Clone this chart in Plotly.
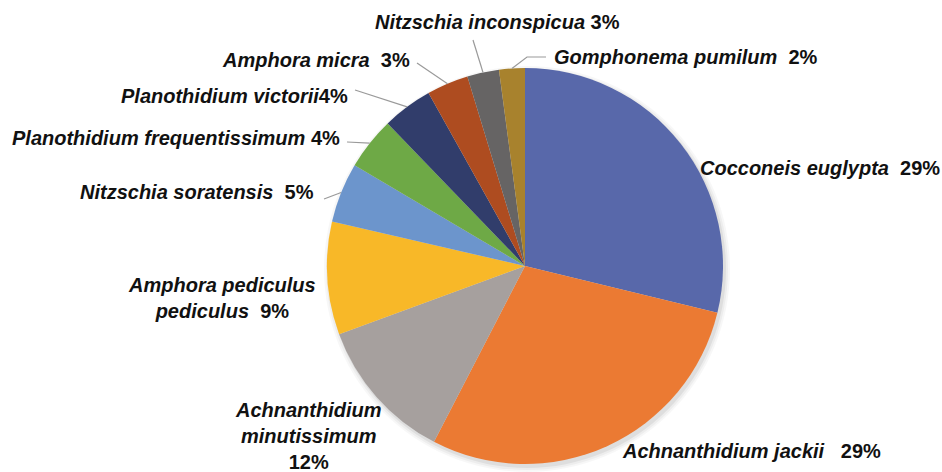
import math
import plotly.graph_objects as go

# ---- data ----
species = [
    "Cocconeis euglypta", "Achnanthidium jackii", "Achnanthidium minutissimum",
    "Amphora pediculus pediculus", "Nitzschia soratensis", "Planothidium frequentissimum",
    "Planothidium victorii", "Amphora micra", "Nitzschia inconspicua", "Gomphonema pumilum",
]
values = [28.8, 28.8, 11.8, 9.2, 4.9, 4.3, 4.1, 3.4, 2.6, 2.1]
colors = ["#5868AA", "#EB7A33", "#A6A09E", "#F8B828", "#6C95CC",
          "#6EA946", "#313D6B", "#AE4C20", "#666464", "#A8822D"]

# ---- layout geometry (pixels) ----
W, H = 942, 472
CX, CY, R = 525, 266, 198

def px(x):
    return x / W

def py(y):
    return 1 - y / H

total = sum(values)
pct = [int(math.floor(v / total * 100 + 0.5)) for v in values]

def lab(i, name_html, gap="\u00a0"):
    return f"<b><i>{name_html}</i>{gap}{pct[i]}%</b>"

label_specs = [
    # (text, x, y, xanchor, yanchor, align, leader start (px) or None)
    (lab(0, "Cocconeis euglypta", "\u00a0\u00a0"), 698, 168, "left", "middle", "left", None),
    (lab(1, "Achnanthidium jackii", "\u00a0\u00a0\u00a0"), 620, 451, "left", "middle", "left", None),
    (f"<b><i>Achnanthidium<br>minutissimum</i><br>{pct[2]}%</b>", 308, 397, "center", "top", "center", None),
    (f"<b><i>Amphora pediculus<br>pediculus</i>\u00a0\u00a0{pct[3]}%</b>", 222, 298, "center", "middle", "center", None),
    (lab(4, "Nitzschia soratensis", "\u00a0\u00a0"), 316, 192, "right", "middle", "right", (324, 199)),
    (lab(5, "Planothidium frequentissimum"), 342, 138, "right", "middle", "right", (347, 142)),
    (lab(6, "Planothidium victorii", ""), 350, 96, "right", "middle", "right", (355, 90)),
    (lab(7, "Amphora micra", "\u00a0\u00a0"), 412, 60, "right", "middle", "right", (417, 63)),
    (lab(8, "Nitzschia inconspicua"), 373, 22, "left", "middle", "left", (473, 40)),
    (lab(9, "Gomphonema pumilum", "\u00a0\u00a0"), 552, 57, "left", "middle", "left", (546, 57)),
]

fig = go.Figure()
fig.add_trace(go.Pie(
    labels=species, values=values, sort=False, direction="clockwise", rotation=0,
    marker=dict(colors=colors, line=dict(width=0)),
    textinfo="none", hoverinfo="label+percent", showlegend=False,
    domain=dict(x=[px(CX - R), px(CX + R)], y=[py(CY + R), py(CY - R)]),
))

font = dict(family="Liberation Sans, Arial, sans-serif", size=20, color="#111111")
annotations = []
shapes = []

# soft drop shadow behind the pie
for k, op in enumerate([0.06, 0.04, 0.03]):
    rr = R + 1 + k * 2
    shapes.append(dict(type="circle", xref="paper", yref="paper", layer="below",
                       x0=px(CX + 2 - rr), x1=px(CX + 2 + rr),
                       y0=py(CY + 3 + rr), y1=py(CY + 3 - rr),
                       fillcolor=f"rgba(0,0,0,{op})", line=dict(width=0)))

cum = 0.0
for i, v in enumerate(values):
    mid = (cum + v / 2) / total * 2 * math.pi
    cum += v
    text, x, y, xa, ya, al, start = label_specs[i]
    annotations.append(dict(text=text, x=px(x), y=py(y), xref="paper", yref="paper",
                            xanchor=xa, yanchor=ya, align=al, showarrow=False,
                            font=font))
    if start is not None:
        ex = CX + R * math.sin(mid)
        ey = CY - R * math.cos(mid)
        if i == 9:
            path = (f"M {px(start[0])} {py(start[1])} L {px(start[0]-19)} {py(start[1])} "
                    f"L {px(ex)} {py(ey)}")
        else:
            path = f"M {px(start[0])} {py(start[1])} L {px(ex)} {py(ey)}"
        shapes.append(dict(type="path", xref="paper", yref="paper", path=path,
                           line=dict(color="#9a9a9a", width=1.2)))

fig.update_layout(
    width=W, height=H, margin=dict(l=0, r=0, t=0, b=0),
    paper_bgcolor="white", plot_bgcolor="white",
    annotations=annotations, shapes=shapes,
)
fig.write_html("out.html", config={"displayModeBar": False},
               post_script="document.body.style.margin='0';document.body.style.overflow='hidden';")
